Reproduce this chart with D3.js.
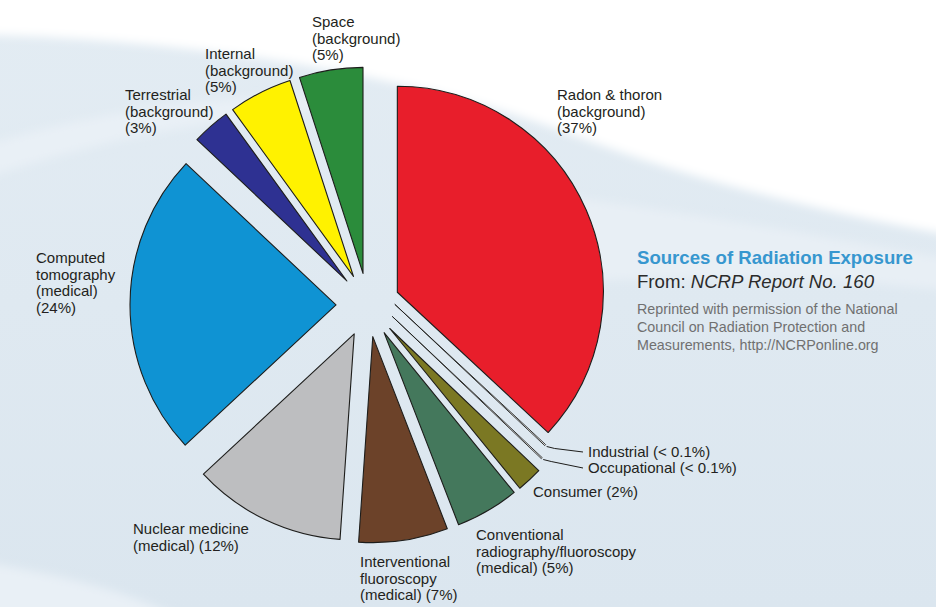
<!DOCTYPE html>
<html><head><meta charset="utf-8">
<script src="https://cdn.jsdelivr.net/npm/d3@7"></script>
<style>
body{margin:0;background:#fff;}
svg{display:block;font-family:"Liberation Sans",Arial,Helvetica,sans-serif;}
</style>
</head><body>
<svg id="chart" width="936" height="607"></svg>
<script>
// ---------------- data ----------------
const categories = ["Radon & thoron","Industrial","Occupational","Consumer",
  "Conventional radiography/fluoroscopy","Interventional fluoroscopy",
  "Nuclear medicine","Computed tomography","Terrestrial","Internal","Space"];
const groups = ["background","industrial","occupational","consumer","medical","medical",
  "medical","medical","background","background","background"];
const values = [37, 0.1, 0.1, 2, 5, 7, 12, 24, 3, 5, 5];
const valueLabels = ["37%","< 0.1%","< 0.1%","2%","5%","7%","12%","24%","3%","5%","5%"];
const labelLines = [
  ["Radon & thoron","(background)","(37%)"],
  ["Industrial (< 0.1%)"],
  ["Occupational (< 0.1%)"],
  ["Consumer (2%)"],
  ["Conventional","radiography/fluoroscopy","(medical) (5%)"],
  ["Interventional","fluoroscopy","(medical) (7%)"],
  ["Nuclear medicine","(medical) (12%)"],
  ["Computed","tomography","(medical)","(24%)"],
  ["Terrestrial","(background)","(3%)"],
  ["Internal","(background)","(5%)"],
  ["Space","(background)","(5%)"]
];
const titleText = "Sources of Radiation Exposure";
const sourceText = ["From: ", "NCRP Report No. 160"];
const noteLines = ["Reprinted with permission of the National",
  "Council on Radiation Protection and",
  "Measurements, http://NCRPonline.org"];

// ---------------- styles / layout ----------------
const colors = ["#e81e2b","#ffffff","#ffffff","#7b7823","#44785c","#6c4229",
  "#bdbec0","#0f93d3","#2e3192","#fff200","#2b8c3b"];
const labelPos = [[557,100],[588,457],[588,473],[533,497],[476,540],[360,567],
  [133,534],[36,263],[125,100],[205,59],[312,27]];
const cx = 368, cy = 305, R = 206, explode = 32, lineH = 16.5;

const svg = d3.select("#chart");

// ---------------- background ----------------
const defs = svg.append("defs");
defs.append("filter").attr("id","soft").attr("x","-20%").attr("y","-20%").attr("width","140%").attr("height","140%")
  .append("feGaussianBlur").attr("stdDeviation", 5);
const g1 = defs.append("linearGradient").attr("id","bg").attr("x1",0).attr("y1",0).attr("x2",0).attr("y2",1);
g1.append("stop").attr("offset","0").attr("stop-color","#e3ecf3");
g1.append("stop").attr("offset","1").attr("stop-color","#dbe6ef");
svg.append("rect").attr("width",936).attr("height",607).attr("fill","url(#bg)");
// white sky above a long arc from the upper left to the right edge
svg.append("path")
  .attr("d","M-30,-30 H966 V238 C 820,212 690,180 560,130 C 420,80 220,40 -30,34 Z")
  .attr("fill","#ffffff").attr("filter","url(#soft)");
// lighter swoosh band inside the blue, upper left
svg.append("path")
  .attr("d","M-30,150 C 60,122 150,104 250,98 C 300,96 330,98 360,104 C 300,112 200,122 120,140 C 60,154 10,170 -30,182 Z")
  .attr("fill","#e9f0f6").attr("filter","url(#soft)");
// lighter band lower right of the swoosh
svg.append("path")
  .attr("d","M560,196 C 700,214 820,236 966,262 V292 C 820,276 700,276 560,282 Z")
  .attr("fill","#e8eff5").attr("filter","url(#soft)");
// lighter diagonal at the bottom left
svg.append("path")
  .attr("d","M-30,560 C 60,575 140,590 220,640 H-30 Z")
  .attr("fill","#e9f0f6").attr("filter","url(#soft)");

// ---------------- pie ----------------
const pie = d3.pie().sort(null).value(d => d).startAngle(0).endAngle(2 * Math.PI);
const arcs = pie(values);
const arc = d3.arc().innerRadius(0).outerRadius(R);
const unit = a => [Math.sin(a), -Math.cos(a)];
const mid = d => (d.startAngle + d.endAngle) / 2;

// explode offsets: along each slice's bisector; tiny slices are spaced evenly
// between their larger neighbours
const offsets = arcs.map(d => { const u = unit(mid(d)); return [explode * u[0], explode * u[1]]; });
const tiny = values.map(v => v < 1);
let i = 0;
while (i < values.length) {
  if (tiny[i]) {
    let j = i; while (j < values.length && tiny[j]) j++;
    const a = offsets[i - 1], b = offsets[j], n = j - i + 1;
    for (let k = i; k < j; k++) {
      const t = (k - i + 1) / n;
      offsets[k] = [a[0] + (b[0] - a[0]) * t, a[1] + (b[1] - a[1]) * t];
    }
    i = j;
  } else i++;
}

const gp = svg.append("g");
gp.selectAll("path.slice").data(arcs).join("path")
  .attr("class","slice")
  .attr("transform", (d, k) => `translate(${cx + offsets[k][0]},${cy + offsets[k][1]})`)
  .attr("d", arc)
  .attr("fill", (d, k) => colors[k])
  .attr("stroke", "#1d1d1b")
  .attr("stroke-width", (d, k) => tiny[k] ? 0.9 : 1.1)
  .attr("stroke-linejoin", "round");

// leader lines for tiny slices
arcs.forEach((d, k) => {
  if (!tiny[k]) return;
  const u = unit(mid(d));
  const x0 = cx + offsets[k][0] + (R + 2) * u[0];
  const y0 = cy + offsets[k][1] + (R + 2) * u[1];
  const [lx, ly] = labelPos[k];
  gp.append("path")
    .attr("d", d3.line()([[x0, y0], [x0 + 8, y0 + 2], [lx - 5, ly - 5]]))
    .attr("fill","none").attr("stroke","#1d1d1b").attr("stroke-width",1);
});

// ---------------- labels ----------------
const gl = svg.append("g").attr("font-size", 15).attr("fill", "#231f20");
labelLines.forEach((lines, k) => {
  const t = gl.append("text").attr("x", labelPos[k][0]).attr("y", labelPos[k][1]);
  lines.forEach((s, m) => t.append("tspan").attr("x", labelPos[k][0]).attr("dy", m ? lineH : 0).text(s));
});

// ---------------- title block ----------------
const tb = svg.append("g").attr("transform","translate(637,0)");
tb.append("text").attr("y", 264).attr("font-size", 18.6).attr("font-weight","bold")
  .attr("fill","#3797cf").text(titleText);
const st = tb.append("text").attr("y", 288).attr("font-size", 18.6).attr("fill","#2b2b2b");
st.append("tspan").text(sourceText[0]);
st.append("tspan").attr("font-style","italic").text(sourceText[1]);
noteLines.forEach((s, m) => tb.append("text").attr("y", 314 + m * 18).attr("font-size", 14.3)
  .attr("fill","#707070").text(s));
</script>
</body></html>
